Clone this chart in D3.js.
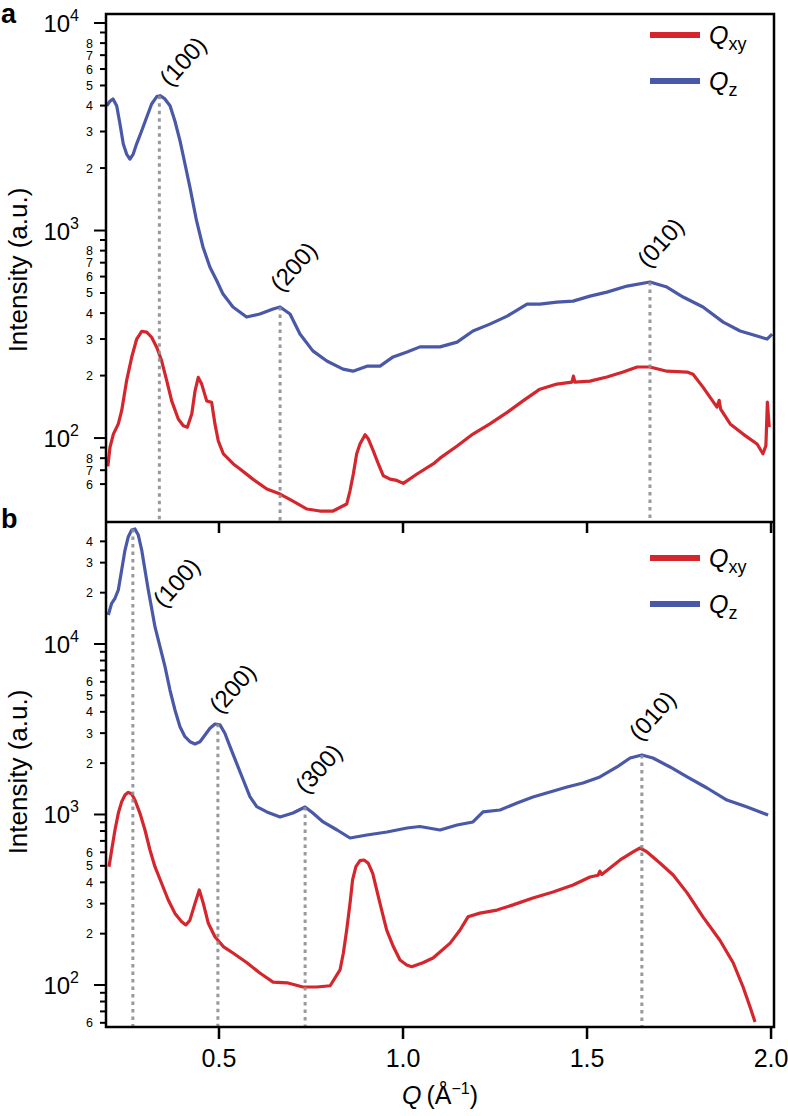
<!DOCTYPE html>
<html><head><meta charset="utf-8">
<script src="https://cdn.jsdelivr.net/npm/d3@7"></script>
<style>
body{margin:0;background:#fff}
svg{display:block}
text{font-family:"Liberation Sans",Arial,Helvetica,sans-serif;fill:#000}
</style>
</head><body>
<svg id="chart" width="788" height="1116"></svg>
<script>
// ---------------- DATA ----------------
// Panel a : [Q (Å^-1), intensity (a.u.)]
const qzA = [[0.195,3990],[0.2038,4195],[0.212,4306],[0.222,3990],[0.231,3260],[0.240,2610],[0.249,2337],[0.258,2210],[0.267,2337],[0.276,2610],[0.290,3026],[0.3035,3512],[0.317,4070],[0.331,4417],[0.340,4464],[0.353,4306],[0.367,3990],[0.380,3381],[0.394,2710],[0.4076,2092],[0.421,1620],[0.439,1115],[0.4565,833],[0.4755,665],[0.494,573],[0.511,494],[0.538,428],[0.575,383],[0.611,396],[0.647,419],[0.666,428],[0.693,396],[0.720,317],[0.755,263],[0.793,235],[0.837,215],[0.864,210],[0.902,222],[0.9375,222],[0.973,246],[1.011,260],[1.046,275],[1.1005,275],[1.147,290],[1.190,328],[1.236,354],[1.283,387],[1.337,442],[1.372,442],[1.418,452],[1.462,457],[1.508,483],[1.554,505],[1.609,540],[1.671,565],[1.717,534],[1.761,478],[1.815,428],[1.870,362],[1.916,328],[1.962,310],[1.989,300],[2.003,317]];
const qxyA = [[0.198,73],[0.2038,90.2],[0.213,104.5],[0.2264,117],[0.2356,135.5],[0.249,189],[0.2628,245],[0.2764,300],[0.290,327],[0.3035,324],[0.317,306],[0.331,273],[0.344,236],[0.358,189],[0.3715,151],[0.3894,123.5],[0.403,114.6],[0.414,112.7],[0.426,130.5],[0.435,169],[0.4437,196],[0.453,182],[0.4666,151],[0.480,148.6],[0.489,117],[0.498,97],[0.512,83.8],[0.539,75],[0.557,71],[0.592,63.4],[0.630,56.8],[0.666,53.7],[0.701,49.7],[0.739,45.5],[0.774,44.5],[0.810,44.5],[0.847,48.1],[0.856,55.7],[0.865,67.1],[0.874,83.8],[0.883,93.6],[0.897,103.7],[0.906,98.9],[0.919,86.9],[0.933,75],[0.9465,65.8],[0.9647,63.4],[0.983,62.5],[1.0008,60.5],[1.038,67.1],[1.082,75],[1.1005,80],[1.147,91.5],[1.190,104.5],[1.236,117],[1.283,133],[1.326,151],[1.372,172],[1.418,182],[1.459,186],[1.463,199],[1.467,186],[1.508,188],[1.554,197],[1.598,208],[1.636,220],[1.671,220],[1.717,210],[1.772,208],[1.788,203],[1.815,176],[1.853,141],[1.859,152],[1.863,138],[1.889,117],[1.924,104.5],[1.962,93.6],[1.978,84],[1.986,92],[1.990,149],[1.995,113]];
// Panel b
const qzB = [[0.1992,14790],[0.2084,17320],[0.2174,18540],[0.2264,20740],[0.2356,27160],[0.2446,35580],[0.2536,42600],[0.2628,46640],[0.2717,47260],[0.2807,43580],[0.290,35580],[0.2989,27160],[0.3079,20740],[0.317,16200],[0.326,12630],[0.3397,9643],[0.3533,7360],[0.3668,5370],[0.3804,4100],[0.394,3273],[0.4076,2860],[0.4212,2673],[0.4348,2592],[0.4484,2673],[0.462,2926],[0.4755,3203],[0.489,3395],[0.5027,3355],[0.516,2994],[0.530,2500],[0.548,1996],[0.566,1593],[0.584,1272],[0.6025,1111],[0.630,1035],[0.666,967],[0.701,1020],[0.734,1106],[0.755,1020],[0.783,904],[0.821,811],[0.856,728],[0.902,758],[0.9565,789],[1.011,833],[1.046,850],[1.1005,811],[1.147,868],[1.190,904],[1.2174,1035],[1.2636,1063],[1.31,1168],[1.353,1267],[1.3995,1355],[1.4457,1450],[1.489,1530],[1.535,1660],[1.5815,1900],[1.617,2145],[1.649,2234],[1.679,2145],[1.7255,1900],[1.772,1660],[1.826,1430],[1.880,1216],[1.935,1106],[1.992,993]];
const qxyB = [[0.2012,494],[0.2084,619],[0.2174,811],[0.2264,1016],[0.2356,1189],[0.2446,1301],[0.2536,1349],[0.2628,1318],[0.2717,1216],[0.2853,1016],[0.2989,811],[0.3125,619],[0.326,494],[0.344,395],[0.3622,315],[0.3804,263],[0.3986,235],[0.410,225],[0.421,240],[0.4348,301],[0.4465,361],[0.4574,301],[0.471,230],[0.489,192],[0.5117,168],[0.538,154],[0.576,135],[0.611,117.5],[0.647,104],[0.685,103],[0.728,97.3],[0.766,97.3],[0.802,99],[0.8288,122.5],[0.8378,153.5],[0.847,210],[0.856,301],[0.863,413],[0.872,494],[0.883,536],[0.894,541],[0.9057,517],[0.9177,452],[0.9285,361],[0.942,275],[0.9557,210],[0.9737,168],[0.9918,140],[1.010,131],[1.0236,128],[1.054,135],[1.0815,144],[1.1005,156],[1.128,176],[1.155,210],[1.1766,251],[1.209,264],[1.2554,275],[1.299,295],[1.353,324],[1.4076,351],[1.462,386],[1.508,430],[1.530,440],[1.535,465],[1.540,445],[1.590,541],[1.625,603],[1.644,636],[1.663,603],[1.698,519],[1.734,442],[1.772,347],[1.815,251],[1.861,183],[1.897,135],[1.924,97.3],[1.943,74.3],[1.9565,60.7]];

// peak markers: label, Q position, intensity at top of the dotted line
const peakLabelsA = ["(100)","(200)","(010)"];
const peakQA      = [0.338, 0.666, 1.671];
const peakTopA    = [4464, 428, 565];
const peakLabelsB = ["(100)","(200)","(300)","(010)"];
const peakQB      = [0.266, 0.497, 0.734, 1.649];
const peakTopB    = [47260, 3400, 1106, 2234];

// ticks
const xTicks = [0.5, 1.0, 1.5, 2.0];
const xTickLabels = ["0.5","1.0","1.5","2.0"];
const yMajorA = [100, 1000, 10000];
const yMinorA = [60,70,80,90,200,300,400,500,600,700,800,900,2000,3000,4000,5000,6000,7000,8000,9000];
const yMinorLabelA = [60,70,80,200,300,400,500,600,700,800,2000,3000,4000,5000,6000,7000,8000];
const yMajorB = [100, 1000, 10000];
const yMinorB = [60,70,80,90,200,300,400,500,600,700,800,900,2000,3000,4000,5000,6000,7000,8000,9000,20000,30000,40000];
const yMinorLabelB = [60,200,300,400,500,600,2000,3000,4000,5000,6000,20000,30000,40000];
const seriesNames = ["xy","z"];

// ---------------- LAYOUT ----------------
const L = 106, R = 774, TOPA = 14, MID = 522, BOTB = 1027;
const RED = "#d4262c", BLUE = "#4a58a8";
const svg = d3.select("#chart");
const x = d3.scaleLinear().domain([0.193, 2.008]).range([L, R]);
const yA = d3.scaleLog().domain([39.4, 11050]).range([MID, TOPA]);
const yB = d3.scaleLog().domain([56.7, 51940]).range([BOTB, MID]);

const defs = svg.append("defs");
defs.append("clipPath").attr("id","clipA").append("rect").attr("x",L).attr("y",TOPA).attr("width",R-L).attr("height",MID-TOPA);
defs.append("clipPath").attr("id","clipB").append("rect").attr("x",L).attr("y",MID).attr("width",R-L).attr("height",BOTB-MID);

function drawPanel(y, clipId, xy, z, labels, qs, tops, labelOffsets, yBottom) {
  const g = svg.append("g").attr("clip-path", `url(#${clipId})`);
  const line = d3.line().x(d => x(d[0])).y(d => y(d[1]));
  g.append("path").datum(xy).attr("d", line).attr("fill","none").attr("stroke",RED).attr("stroke-width",3.2).attr("stroke-linejoin","round");
  g.append("path").datum(z).attr("d", line).attr("fill","none").attr("stroke",BLUE).attr("stroke-width",3.2).attr("stroke-linejoin","round");
  qs.forEach((q,i) => {
    g.append("line").attr("x1",x(q)).attr("x2",x(q)).attr("y1",y(tops[i])).attr("y2",yBottom)
      .attr("stroke","#8e8e8e").attr("stroke-width",3).attr("stroke-dasharray","3.5,4").attr("opacity",0.9);
  });
  labels.forEach((t,i) => {
    const px = x(qs[i]) + labelOffsets[i][0], py = y(tops[i]) + labelOffsets[i][1];
    svg.append("text").attr("transform",`translate(${px},${py}) rotate(-48)`)
      .attr("font-size",24).text(t);
  });
}
drawPanel(yA, "clipA", qxyA, qzA, peakLabelsA, peakQA, peakTopA, [[11,-8],[1,-14],[-2,-13]], MID);
drawPanel(yB, "clipB", qxyB, qzB, peakLabelsB, peakQB, peakTopB, [[31,80],[2,-9],[1,-12],[-2,-13]], BOTB);

// frames / axes
const ax = svg.append("g").attr("stroke","#000").attr("stroke-width",2.5).attr("fill","none");
ax.append("path").attr("d",`M${L},${TOPA}H${R}V${BOTB}H${L}Z`);
ax.append("line").attr("x1",L).attr("x2",R).attr("y1",MID).attr("y2",MID);

// y ticks
function yAxis(y, majors, minors, minorLabels) {
  const g = svg.append("g");
  majors.forEach(v => {
    g.append("line").attr("x1",L-12).attr("x2",L).attr("y1",y(v)).attr("y2",y(v)).attr("stroke","#000").attr("stroke-width",2);
    const exp = Math.round(Math.log10(v));
    const t = g.append("text").attr("x",79).attr("y",y(v)+9).attr("text-anchor","end").attr("font-size",24);
    t.append("tspan").text("10");
    t.append("tspan").attr("font-size",16).attr("dy",-11).text(exp);
  });
  minors.forEach(v => {
    g.append("line").attr("x1",L-6).attr("x2",L).attr("y1",y(v)).attr("y2",y(v)).attr("stroke","#000").attr("stroke-width",2);
  });
  minorLabels.forEach(v => {
    const m = Math.round(v / Math.pow(10, Math.floor(Math.log10(v))));
    g.append("text").attr("x",93).attr("y",y(v)).attr("dy","0.36em").attr("text-anchor","end").attr("font-size",12.5).text(m);
  });
}
yAxis(yA, yMajorA, yMinorA, yMinorLabelA);
yAxis(yB, yMajorB, yMinorB, yMinorLabelB);

// x ticks
xTicks.forEach((q,i) => {
  svg.append("line").attr("x1",x(q)).attr("x2",x(q)).attr("y1",MID).attr("y2",MID+11).attr("stroke","#000").attr("stroke-width",2.5);
  svg.append("line").attr("x1",x(q)).attr("x2",x(q)).attr("y1",BOTB).attr("y2",BOTB+12).attr("stroke","#000").attr("stroke-width",2.5);
  svg.append("text").attr("x",x(q)).attr("y",BOTB+40).attr("text-anchor","middle").attr("font-size",25).text(xTickLabels[i]);
});

// axis titles
const xt = svg.append("text").attr("x",(L+R)/2).attr("y",1104).attr("text-anchor","middle").attr("font-size",25);
xt.append("tspan").attr("font-style","italic").text("Q");
xt.append("tspan").text("\u2009(Å");
xt.append("tspan").attr("font-size",16).attr("dy",-10).text("\u22121");
xt.append("tspan").attr("dy",10).text(")");
[270, 772].forEach(cy => {
  svg.append("text").attr("transform",`translate(27,${cy}) rotate(-90)`).attr("text-anchor","middle").attr("font-size",26).text("Intensity (a.u.)");
});

// panel letters
svg.append("text").attr("x",1).attr("y",23).attr("font-size",27).attr("font-weight","bold").text("a");
svg.append("text").attr("x",1).attr("y",528).attr("font-size",27).attr("font-weight","bold").text("b");

// legends
function legend(y0) {
  const colors = [RED, BLUE];
  seriesNames.forEach((s,i) => {
    const yy = y0 + i*46;
    svg.append("line").attr("x1",650).attr("x2",700).attr("y1",yy).attr("y2",yy).attr("stroke",colors[i]).attr("stroke-width",6);
    const t = svg.append("text").attr("x",709).attr("y",yy+9).attr("font-size",25);
    t.append("tspan").attr("font-style","italic").text("Q");
    t.append("tspan").attr("font-size",18).attr("dy",6).text(s);
  });
}
legend(35);
legend(558);
</script>
</body></html>
